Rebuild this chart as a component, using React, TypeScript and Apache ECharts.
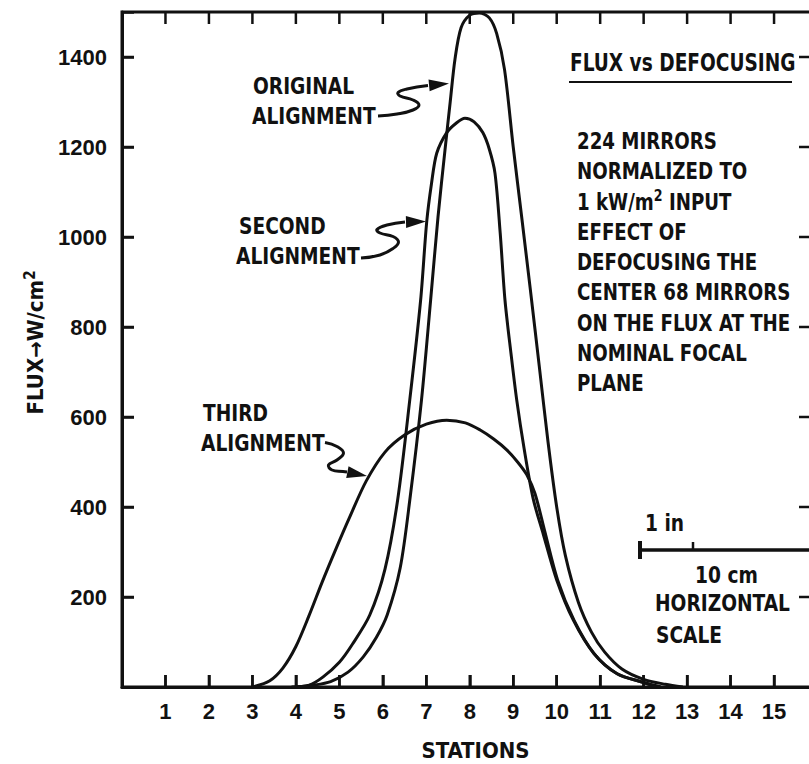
import React, { useEffect, useRef } from "react";
import * as echarts from "echarts";

const FONT = "'DejaVu Sans Condensed', 'DejaVu Sans', sans-serif";
const NUM_FONT = "'Liberation Sans', Arial, sans-serif";
const INK = "#111111";

// x axis: stations
const stations = [1, 2, 3, 4, 5, 6, 7, 8, 9, 10, 11, 12, 13, 14, 15];
const xMin = 0;
const xMax = 15.85;
// y axis: flux W/cm2
const yTicks = [200, 400, 600, 800, 1000, 1200, 1400];
const yMin = 0;
const yMax = 1500;

const originalAlignment: [number, number][] = [
  [4.0, 0], [4.4, 4], [4.8, 12], [5.2, 33], [5.55, 67], [5.85, 110], [6.1, 160],
  [6.4, 265], [6.62, 415], [6.89, 638], [7.1, 860], [7.27, 1045], [7.43, 1193],
  [7.55, 1300], [7.66, 1395], [7.8, 1465], [8.0, 1493], [8.22, 1498], [8.45, 1487],
  [8.62, 1452], [8.8, 1372], [9.0, 1200], [9.2, 1040], [9.4, 878], [9.6, 712],
  [9.8, 545], [10.0, 400], [10.2, 292], [10.5, 188], [10.8, 122], [11.1, 78],
  [11.5, 40], [12.0, 17], [12.5, 6], [12.9, 0],
];

const secondAlignment: [number, number][] = [
  [3.9, 0], [4.3, 4], [4.62, 22], [5.0, 55], [5.3, 95], [5.7, 160], [6.05, 262],
  [6.34, 415], [6.62, 638], [6.87, 860], [7.01, 1034], [7.12, 1119], [7.24, 1186],
  [7.47, 1232], [7.7, 1254], [7.89, 1264], [8.1, 1256], [8.3, 1232], [8.45, 1195],
  [8.58, 1142], [8.7, 1009], [8.81, 860], [8.95, 740], [9.08, 638], [9.25, 530],
  [9.46, 418], [9.69, 340], [10.0, 238], [10.38, 149], [10.85, 75], [11.38, 30],
  [12.0, 10], [12.4, 0],
];

const thirdAlignment: [number, number][] = [
  [3.0, 0], [3.4, 14], [3.7, 42], [4.0, 90], [4.3, 158], [4.6, 232], [4.9, 302],
  [5.24, 378], [5.62, 458], [6.05, 522], [6.5, 560], [7.0, 584], [7.47, 593],
  [7.9, 587], [8.24, 571], [8.55, 551], [8.85, 527], [9.1, 500], [9.31, 472],
  [9.5, 430], [9.72, 348], [10.02, 238], [10.4, 148], [10.87, 73], [11.4, 29],
  [12.0, 10], [12.3, 0],
];

const seriesNames = ["ORIGINAL ALIGNMENT", "SECOND ALIGNMENT", "THIRD ALIGNMENT"];
const titleText = "FLUX vs DEFOCUSING";
const noteLines = [
  "224 MIRRORS",
  "NORMALIZED TO",
  "{t|1 kW/m}{s|2}{t| INPUT}",
  "EFFECT OF",
  "DEFOCUSING THE",
  "CENTER 68 MIRRORS",
  "ON THE FLUX AT THE",
  "NOMINAL FOCAL",
  "PLANE",
];
const scaleTexts = { inch: "1 in", cm: "10 cm", l1: "HORIZONTAL", l2: "SCALE" };

// inward tick marks on the four frame sides: [x, y, side] (0 bottom, 1 top, 2 left, 3 right)
const tickMarks: number[][] = [
  ...stations.map((s) => [s, yMin, 0]),
  ...stations.map((s) => [s, yMax, 1]),
  ...yTicks.map((v) => [xMin, v, 2]),
  ...yTicks.map((v) => [xMax, v, 3]),
];
const tickDirs = [[0, -1], [0, 1], [1, 0], [-1, 0]];

function arrowHead(tip: [number, number], from: [number, number], len: number, hw: number) {
  const dx = tip[0] - from[0];
  const dy = tip[1] - from[1];
  const d = Math.hypot(dx, dy);
  const ux = dx / d, uy = dy / d;
  const bx = tip[0] - ux * len, by = tip[1] - uy * len;
  return [[tip[0], tip[1]], [bx - uy * hw, by + ux * hw], [bx + uy * hw, by - ux * hw]];
}

function label(text: string, x: number, y: number, size = 23, sx = 0.9) {
  return {
    type: "text",
    x,
    y,
    scaleX: sx,
    style: {
      text,
      fill: INK,
      font: `bold ${size}px ${FONT}`,
      textAlign: "left",
      textVerticalAlign: "middle",
    },
  };
}

function squiggle(points: number[][], tip: [number, number]) {
  const last = points[points.length - 1] as [number, number];
  return [
    {
      type: "polyline",
      shape: { points, smooth: 0.45 },
      style: { stroke: INK, lineWidth: 3, fill: "none" },
    },
    {
      type: "polygon",
      shape: { points: arrowHead(tip, last, 20, 6) },
      style: { fill: INK },
    },
  ];
}

export default function App() {
  const ref = useRef<HTMLDivElement>(null);
  useEffect(() => {
    if (!ref.current) return;
    const chart = echarts.init(ref.current, undefined, { renderer: "svg" });
    const lineSeries = (name: string, data: [number, number][]) => ({
      type: "line",
      name,
      data,
      symbol: "none",
      smooth: 0.3,
      clip: false,
      lineStyle: { color: INK, width: 3 },
    });
    const axisLine = () => ({ show: true, onZero: false, lineStyle: { color: INK, width: 3 } });
    const axisTick = () => ({ show: true, inside: true, length: 12, lineStyle: { color: INK, width: 2.5 } });
    const labelStyle = { color: INK, fontFamily: NUM_FONT, fontWeight: "bold", fontSize: 22 };

    const graphics: any[] = [
      label("ORIGINAL", 253, 86),
      label("ALIGNMENT", 252, 116),
      label("SECOND", 239, 226),
      label("ALIGNMENT", 236, 256),
      label("THIRD", 203, 413),
      label("ALIGNMENT", 201, 443),
      ...squiggle(
        [[378, 116], [397, 114], [413, 110], [419, 105], [413, 100], [400, 96], [398, 92.5], [407, 89], [428, 85.5]],
        [449, 83.5]
      ),
      ...squiggle(
        [[361, 258], [380, 255], [393, 248.5], [398.5, 242], [393, 236.5], [380, 233], [377, 229.5], [387, 225], [405, 222]],
        [426, 221.5]
      ),
      ...squiggle(
        [[325, 442.5], [337, 446.5], [343.5, 453], [337, 460], [328.5, 465], [332, 470], [343, 471.5], [347, 472]],
        [367, 476]
      ),
      label(titleText, 570, 62, 24, 0.86),
      { type: "line", shape: { x1: 569, y1: 82, x2: 792, y2: 82 }, style: { stroke: INK, lineWidth: 2 } },
      ...noteLines.map((t, i) => ({
        type: "text",
        x: 577,
        y: 141 + i * 30.3,
        scaleX: 0.88,
        style: {
          text: t,
          fill: INK,
          font: `bold 23px ${FONT}`,
          textAlign: "left",
          textVerticalAlign: "middle",
          rich: {
            t: { fontFamily: FONT, fontWeight: "bold", fontSize: 23, fill: INK },
            s: { fontFamily: FONT, fontWeight: "bold", fontSize: 16, fill: INK, verticalAlign: "top", padding: [0, 0, 12, 0] },
          },
        },
      })),
      label(scaleTexts.inch, 645, 523),
      { type: "line", shape: { x1: 640, y1: 550, x2: 815, y2: 550 }, style: { stroke: INK, lineWidth: 3.5 } },
      { type: "line", shape: { x1: 640, y1: 541, x2: 640, y2: 559 }, style: { stroke: INK, lineWidth: 4 } },
      { type: "line", shape: { x1: 693, y1: 542, x2: 693, y2: 550 }, style: { stroke: INK, lineWidth: 2.5 } },
      label(scaleTexts.cm, 695, 575),
      label(scaleTexts.l1, 655, 603),
      label(scaleTexts.l2, 656, 635),
    ];

    chart.setOption({
      animation: false,
      grid: {
        show: true,
        left: 122,
        top: 12,
        width: 689,
        height: 675,
        borderColor: INK,
        borderWidth: 3,
        backgroundColor: "transparent",
        outerBoundsMode: "none",
      },
      xAxis: {
        type: "value",
        min: xMin,
        max: xMax,
        interval: 1,
        position: "bottom",
        name: "STATIONS",
        nameLocation: "middle",
        nameGap: 52,
        nameTextStyle: { color: INK, fontFamily: FONT, fontWeight: "bold", fontSize: 22, padding: [0, 0, 0, 18] },
        axisLine: axisLine(),
        axisTick: axisTick(),
        splitLine: { show: false },
        axisLabel: {
          ...labelStyle,
          margin: 13,
          formatter: (v: number) => (stations.includes(v) ? String(v) : ""),
        },
      },
      yAxis: {
        type: "value",
        min: yMin,
        max: yMax,
        interval: 200,
        position: "left",
        name: "{a|FLUX→W/cm}{b|2}",
        nameLocation: "middle",
        nameRotate: 90,
        nameGap: 73,
        nameTextStyle: {
          padding: [0, 0, 0, 14],
          rich: {
            a: { fontFamily: FONT, fontWeight: "bold", fontSize: 22, color: INK },
            b: { fontFamily: FONT, fontWeight: "bold", fontSize: 15, color: INK, verticalAlign: "top", padding: [0, 0, 12, 0] },
          },
        },
        axisLine: axisLine(),
        axisTick: axisTick(),
        splitLine: { show: false },
        axisLabel: {
          ...labelStyle,
          margin: 15,
          formatter: (v: number) => (yTicks.includes(v) ? String(v) : ""),
        },
      },
      series: [
        lineSeries(seriesNames[0], originalAlignment),
        lineSeries(seriesNames[1], secondAlignment),
        lineSeries(seriesNames[2], thirdAlignment),
        {
          type: "custom",
          data: tickMarks,
          encode: { x: 0, y: 1 },
          clip: false,
          z: 100,
          renderItem: (_p: any, api: any) => {
            const p = api.coord([api.value(0), api.value(1)]);
            const d = tickDirs[api.value(2)];
            return {
              type: "line",
              shape: { x1: p[0], y1: p[1], x2: p[0] + d[0] * 12, y2: p[1] + d[1] * 12 },
              style: { stroke: INK, lineWidth: 2.5 },
            };
          },
        },
      ],
      graphic: graphics,
    });
    return () => chart.dispose();
  }, []);
  return (
    <div
      ref={ref}
      style={{ position: "fixed", left: 0, top: 0, width: 809, height: 764, background: "#fff" }}
    />
  );
}
